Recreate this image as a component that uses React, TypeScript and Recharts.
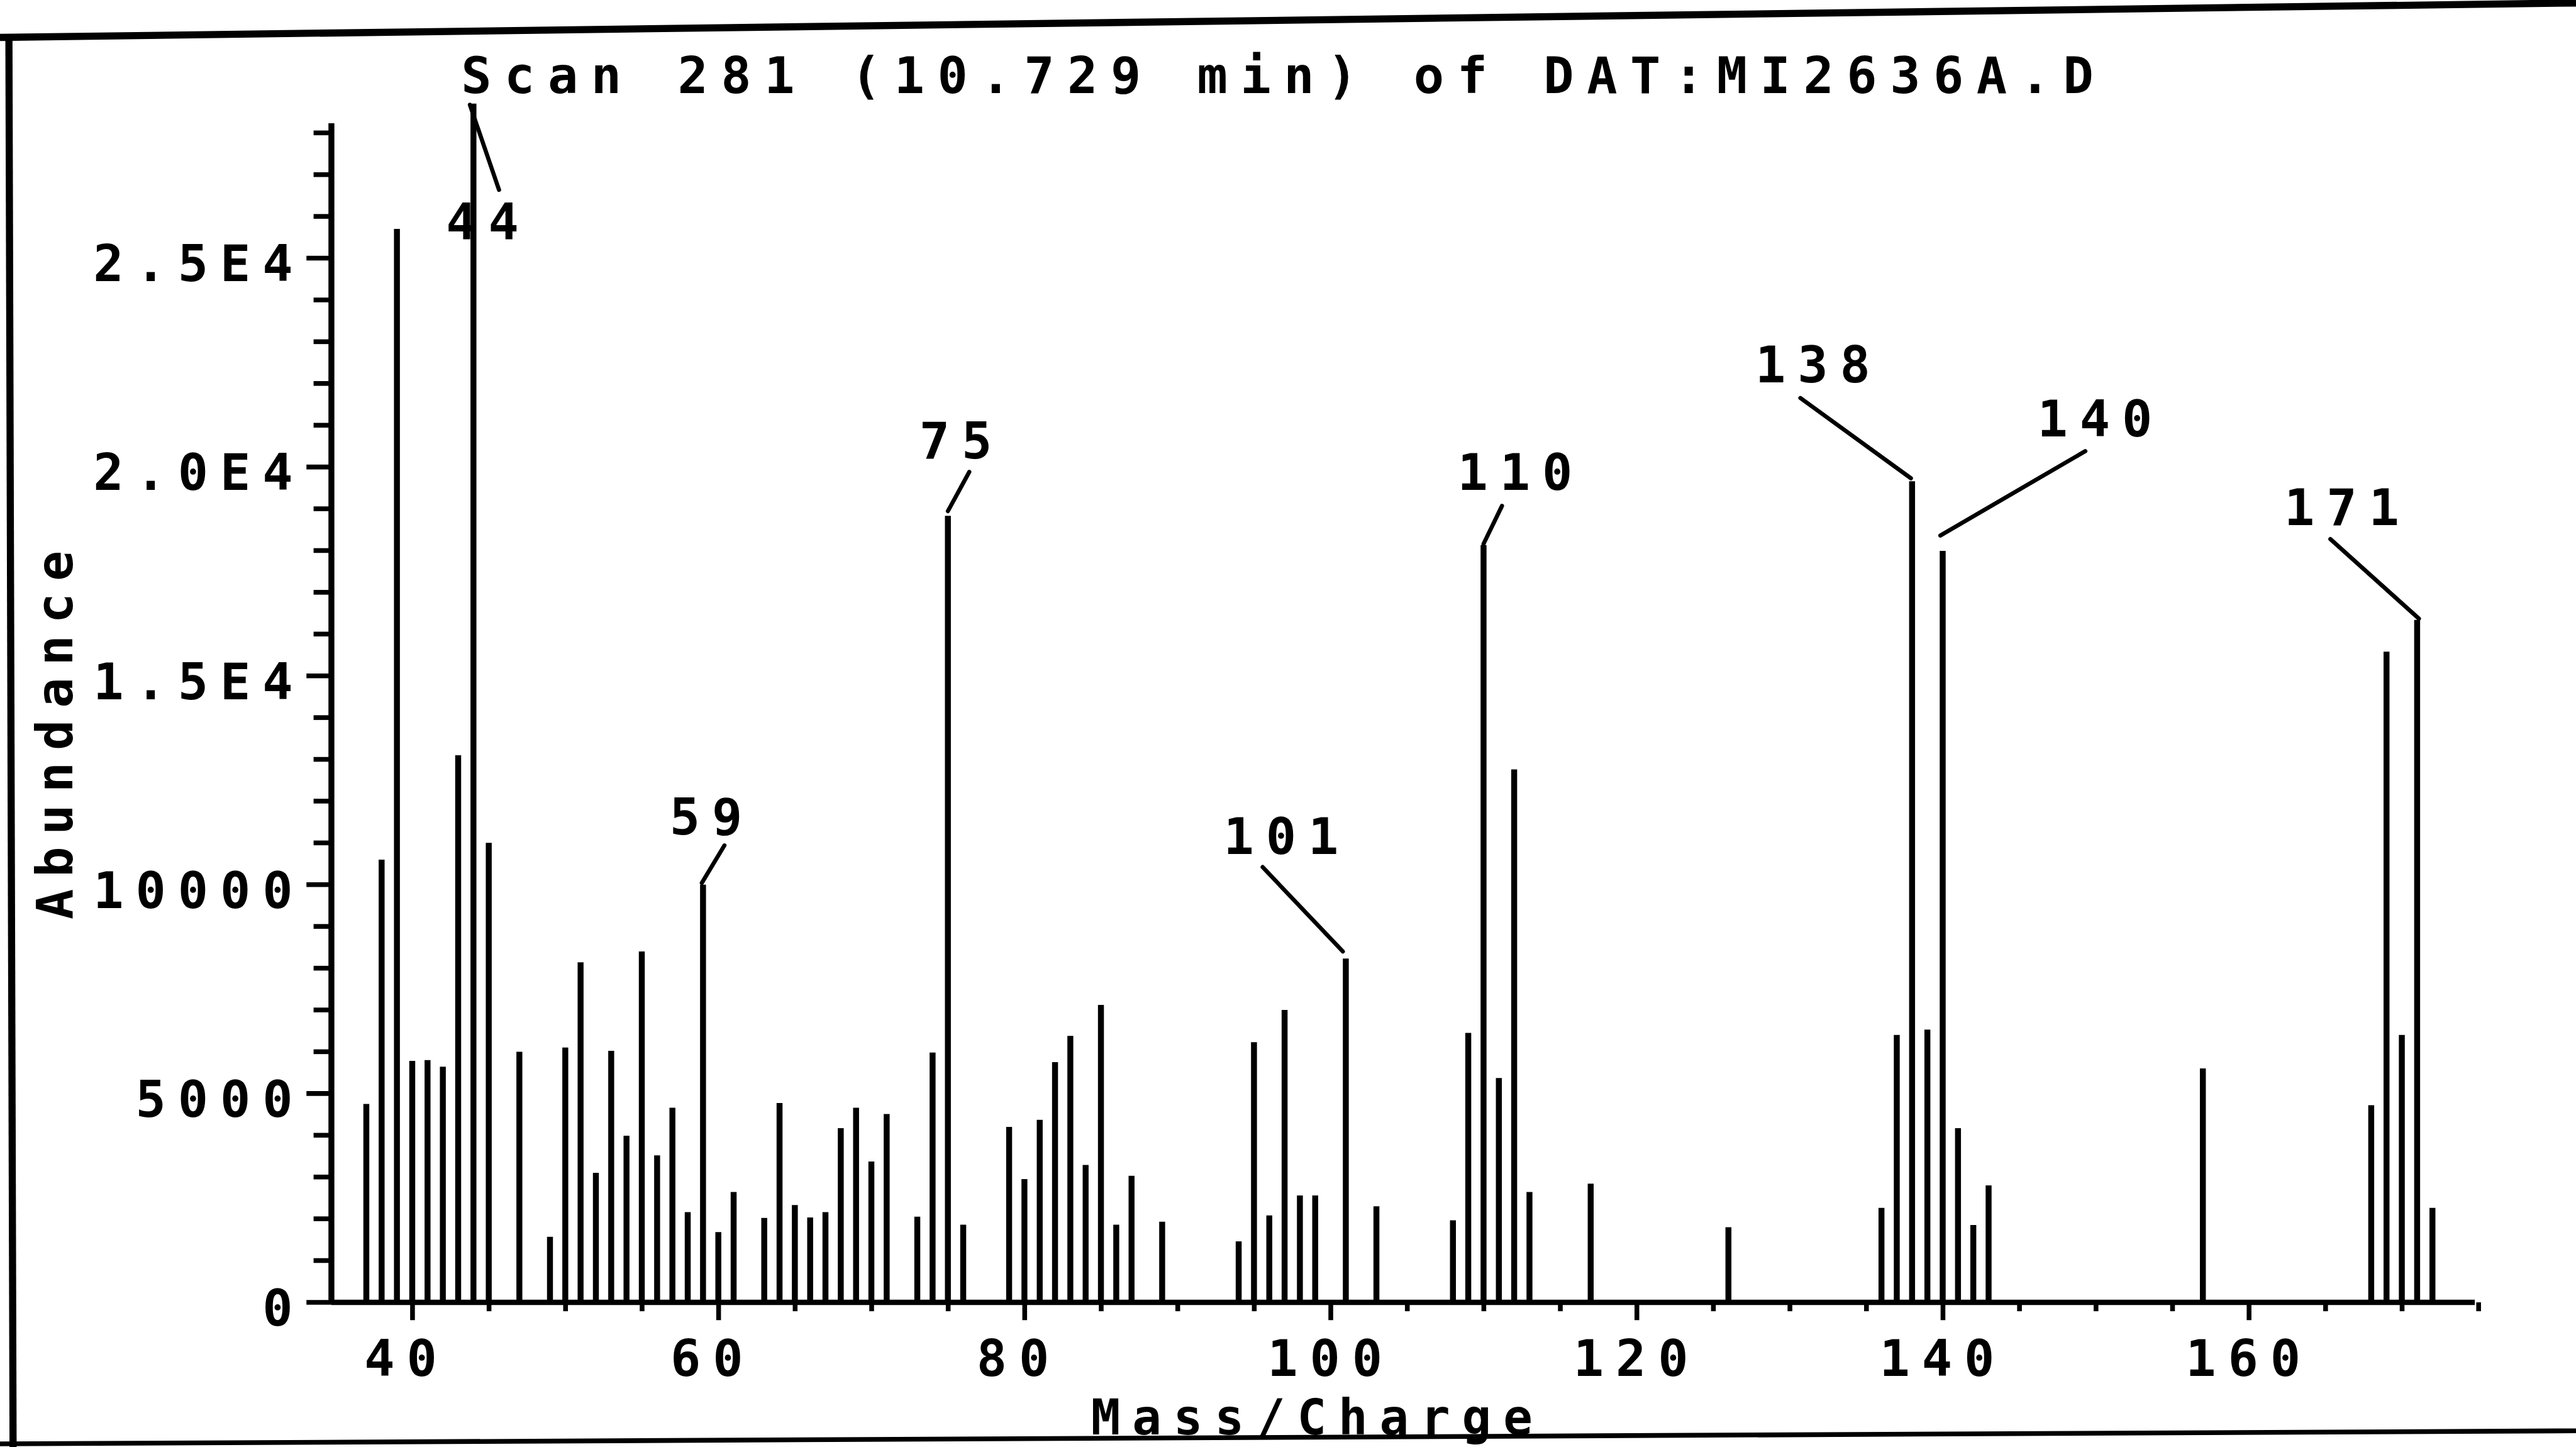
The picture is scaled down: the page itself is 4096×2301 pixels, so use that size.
import React from 'react';
import { BarChart, Bar, XAxis, YAxis, ReferenceLine, LabelList } from 'recharts';

// reference was 4335 wide, window is 4096
const S = 4096 / 4335;
const px = (n: number) => n * S;

const FONT = '"DejaVu Sans Mono", "Liberation Mono", monospace';
const INK = '#000';
const LS = px(20); // plotter font is widely spaced

const title = 'Scan 281 (10.729 min) of DAT:MI2636A.D';
const xTitle = 'Mass/Charge';
const yTitle = 'Abundance';

// m/z of every line in the spectrum
const massCharge = [
  37, 38, 39, 40, 41, 42, 43, 44, 45, 47, 49, 50, 51, 52, 53, 54, 55, 56, 57, 58,
  59, 60, 61, 63, 64, 65, 66, 67, 68, 69, 70, 71, 73, 74, 75, 76, 79, 80, 81, 82,
  83, 84, 85, 86, 87, 89, 94, 95, 96, 97, 98, 99, 101, 103, 108, 109, 110, 111, 112, 113,
  117, 126, 136, 137, 138, 139, 140, 141, 142, 143, 157, 168, 169, 170, 171, 172,
];

// abundance of each line, same order
const abundance = [
  4750, 10600, 25700, 5780, 5800, 5640, 13100, 28700, 11000, 6000, 1570, 6100, 8140, 3100, 6020, 3990, 8400, 3520, 4660, 2160,
  10000, 1680, 2640, 2020, 4770, 2330, 2030, 2160, 4170, 4660, 3370, 4510, 2050, 5980, 18830, 1860, 4200, 2950, 4370, 5750,
  6380, 3290, 7120, 1860, 3030, 1930, 1460, 6230, 2080, 7000, 2560, 2560, 8230, 2300, 1965, 6450, 18130, 5370, 12760, 2640,
  2840, 1800, 2260, 6400, 19660, 6530, 17990, 4170, 1850, 2800, 5600, 4720, 15580, 6400, 16340, 2260,
];

// lines that carry a mass label
const labelledPeaks = [44, 59, 75, 101, 110, 138, 140, 171];

const xTicks = [40, 45, 50, 55, 60, 65, 70, 75, 80, 85, 90, 95, 100, 105, 110, 115, 120, 125, 130, 135, 140, 145, 150, 155, 160, 165, 170, 175];
const xTickLabels: Record<number, string> = { 40: '40', 60: '60', 80: '80', 100: '100', 120: '120', 140: '140', 160: '160' };

const yTicks = [
  0, 1000, 2000, 3000, 4000, 5000, 6000, 7000, 8000, 9000, 10000, 11000, 12000, 13000, 14000,
  15000, 16000, 17000, 18000, 19000, 20000, 21000, 22000, 23000, 24000, 25000, 26000, 27000, 28000,
];
const yTickLabels: Record<number, string> = { 0: '0', 5000: '5000', 10000: '10000', 15000: '1.5E4', 20000: '2.0E4', 25000: '2.5E4' };

const X_DOMAIN: [number, number] = [34.7, 174.75];
const Y_DOMAIN: [number, number] = [0, 28800];
const Y_AXIS_TOP = 28230;

// where each mass label and its leader sit, relative to the top of its line (reference px)
const peakNotes: Record<string, { dx: number; dy: number; line: number[] }> = {
  '44': { dx: 15, dy: 198, line: [-6, 2, 43, 145] },
  '59': { dx: 5, dy: -115, line: [-2, -3, 36, -66] },
  '75': { dx: 13, dy: -128, line: [0, -8, 36, -74] },
  '101': { dx: -109, dy: -207, line: [-140, -154, -5, -12] },
  '110': { dx: 53, dy: -124, line: [0, -2, 31, -66] },
  '138': { dx: -167, dy: -197, line: [-188, -140, -2, -5] },
  '140': { dx: 256, dy: -224, line: [-4, -26, 240, -168] },
  '171': { dx: -127, dy: -190, line: [-146, -136, 3, -2] },
};

const data = massCharge.map((mz, i) => ({
  mz,
  abundance: abundance[i],
  note: labelledPeaks.includes(mz) ? String(mz) : '',
}));

const textStyle = {
  fontFamily: FONT,
  fontWeight: 700,
  fontSize: px(85),
  letterSpacing: LS,
  fill: INK,
};

const YTick = (props: any) => {
  const { x, y, payload } = props;
  const v = payload.value;
  const len = px(v % 5000 === 0 ? 42 : 30);
  const label = yTickLabels[v];
  return (
    <g>
      <line x1={x - len} y1={y} x2={x} y2={y} stroke={INK} strokeWidth={px(8)} />
      {label && (
        <text x={x - px(65) + LS} y={y + px(39)} textAnchor="end" style={textStyle}>
          {label}
        </text>
      )}
    </g>
  );
};

const XTick = (props: any) => {
  const { x, y, payload } = props;
  const v = payload.value;
  const len = px(v % 20 === 0 ? 30 : 15);
  const label = xTickLabels[v];
  return (
    <g>
      <line x1={x} y1={y} x2={x} y2={y + len} stroke={INK} strokeWidth={px(8)} />
      {label && (
        <text
          x={x + px(label.length === 2 ? -20 : -10) + LS / 2}
          y={y + px(124)}
          textAnchor="middle"
          style={textStyle}
        >
          {label}
        </text>
      )}
    </g>
  );
};

const PeakNote = (props: any) => {
  const { value } = props;
  if (!value) return null;
  const note = peakNotes[String(value)];
  if (!note) return null;
  const vb = props.viewBox || props;
  const cx = vb.x + vb.width / 2;
  const top = vb.y;
  const [x1, y1, x2, y2] = note.line;
  return (
    <g>
      <line
        x1={cx + px(x1)}
        y1={top + px(y1)}
        x2={cx + px(x2)}
        y2={top + px(y2)}
        stroke={INK}
        strokeWidth={px(7)}
        strokeLinecap="round"
      />
      <text
        x={cx + px(note.dx) + LS / 2}
        y={top + px(note.dy) + px(31)}
        textAnchor="middle"
        style={textStyle}
      >
        {value}
      </text>
    </g>
  );
};

export default function App() {
  const W = 4096;
  const H = 2301;
  return (
    <div style={{ position: 'absolute', left: 0, top: 0, width: W, height: H, background: '#fff', overflow: 'hidden' }}>
      <BarChart
        width={W}
        height={H}
        data={data}
        margin={{ top: px(167.4), left: px(57.7), right: px(4335 - 4164.7), bottom: px(2435 - 2191.5 - 200) }}
      >
        <XAxis
          dataKey="mz"
          type="number"
          domain={X_DOMAIN}
          ticks={xTicks}
          interval={0}
          height={px(200)}
          tickSize={0}
          tickMargin={0}
          tickLine={false}
          tick={<XTick />}
          axisLine={{ stroke: INK, strokeWidth: px(9) }}
        />
        <YAxis
          type="number"
          domain={Y_DOMAIN}
          ticks={yTicks}
          interval={0}
          width={px(500)}
          tickSize={0}
          tickMargin={0}
          tickLine={false}
          tick={<YTick />}
          axisLine={false}
        />
        <ReferenceLine
          segment={[{ x: X_DOMAIN[0], y: 0 }, { x: X_DOMAIN[0], y: Y_AXIS_TOP }]}
          stroke={INK}
          strokeWidth={px(10)}
          ifOverflow="visible"
        />
        <Bar dataKey="abundance" fill={INK} barSize={px(10)} isAnimationActive={false}>
          <LabelList dataKey="note" content={<PeakNote />} />
        </Bar>
      </BarChart>

      <svg
        width={W}
        height={H}
        style={{ position: 'absolute', left: 0, top: 0, pointerEvents: 'none' }}
      >
        {/* edges of the scanned sheet */}
        <line x1={0} y1={px(63)} x2={W} y2={px(5)} stroke={INK} strokeWidth={px(12)} />
        <line x1={px(15)} y1={px(60)} x2={px(22)} y2={H} stroke={INK} strokeWidth={px(12)} />
        <line x1={0} y1={px(2430)} x2={W} y2={px(2408)} stroke={INK} strokeWidth={px(8)} />

        <text x={px(776)} y={px(157)} style={{ ...textStyle, letterSpacing: px(21.7) }}>
          {title}
        </text>
        <text x={px(1836)} y={px(2414)} style={{ ...textStyle, fontSize: px(82) }}>
          {xTitle}
        </text>
        <text
          transform={`translate(${px(122)},${px(1237)}) rotate(-90)`}
          x={LS / 2}
          y={0}
          textAnchor="middle"
          style={textStyle}
        >
          {yTitle}
        </text>
      </svg>
    </div>
  );
}
